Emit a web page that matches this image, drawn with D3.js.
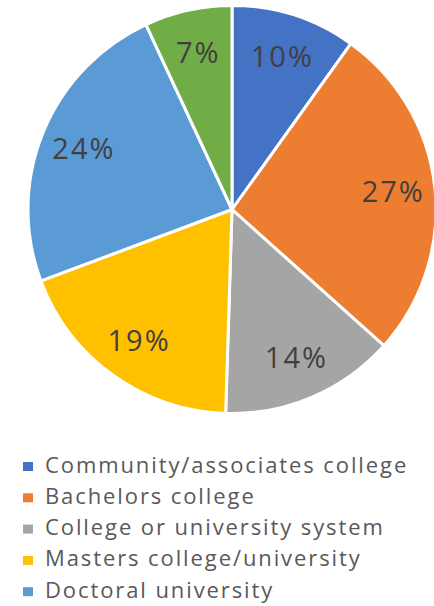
<!DOCTYPE html>
<html>
<head>
<meta charset="utf-8">
<script src="https://cdn.jsdelivr.net/npm/d3@7"></script>
<style>
  html, body { margin: 0; padding: 0; background: #ffffff; }
  svg { display: block; }
</style>
</head>
<body>
<svg id="chart" width="434" height="606"></svg>
<script>
// Institution types and their share of respondents (percent)
const categories = [
  "Community/associates college",
  "Bachelors college",
  "College or university system",
  "Masters college/university",
  "Doctoral university",
  "Special focus institution"
];
const shares = [10, 27, 14, 19, 24, 7];
const colors = ["#4472C4", "#ED7D31", "#A5A5A5", "#FFC000", "#5B9BD5", "#70AD47"];

const svg = d3.select("#chart");
const cx = 232, cy = 209.5, radius = 204;
const fontFamily = "'Open Sans', Lato, sans-serif";

const data = categories.map((name, i) => ({ name, value: shares[i], color: colors[i] }));

const pie = d3.pie().value(d => d.value).sort(null);
const arc = d3.arc().innerRadius(0).outerRadius(radius);
const labelArc = d3.arc().innerRadius(radius * 0.79).outerRadius(radius * 0.79);

const g = svg.append("g").attr("transform", `translate(${cx},${cy})`);
const arcs = pie(data);

g.selectAll("path.slice")
  .data(arcs)
  .join("path")
  .attr("class", "slice")
  .attr("d", arc)
  .attr("fill", d => d.data.color)
  .attr("stroke", "#ffffff")
  .attr("stroke-width", 3)
  .attr("stroke-linejoin", "round");

// Percentage labels; letter-spacing trails the last glyph, so nudge back by half of it
g.selectAll("text.pct")
  .data(arcs)
  .join("text")
  .attr("class", "pct")
  .attr("transform", d => `translate(${labelArc.centroid(d)})`)
  .attr("text-anchor", "middle")
  .attr("dx", 1)
  .attr("dy", "0.36em")
  .attr("fill", "#404040")
  .style("font-family", fontFamily)
  .style("font-size", "29px")
  .style("letter-spacing", "2px")
  .text(d => d.data.value + "%");

// Legend
const legend = svg.append("g").attr("transform", "translate(23,472.5)");
const rowH = 31.3;
const rows = legend.selectAll("g.item")
  .data(data.slice(0, 5))
  .join("g")
  .attr("class", "item")
  .attr("transform", (d, i) => `translate(0,${i * rowH})`);

rows.append("rect")
  .attr("x", 0)
  .attr("y", -10.5)
  .attr("width", 10)
  .attr("height", 9)
  .attr("fill", d => d.color);

rows.append("text")
  .attr("x", 22)
  .attr("y", 0)
  .attr("fill", "#595959")
  .style("font-family", fontFamily)
  .style("font-size", "22px")
  .style("letter-spacing", "1.9px")
  .text(d => d.name);
</script>
</body>
</html>
